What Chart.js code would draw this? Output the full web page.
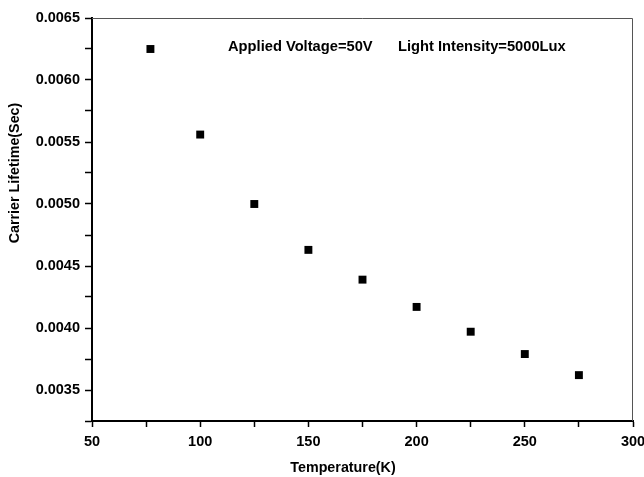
<!DOCTYPE html>
<html>
<head>
<meta charset="utf-8">
<script src="https://cdn.jsdelivr.net/npm/chart.js@4/dist/chart.umd.min.js"></script>
<style>
html,body{margin:0;padding:0;background:#fff;}
#wrap{width:644px;height:477px;}
</style>
</head>
<body>
<div id="wrap"><canvas id="c" width="644" height="477"></canvas></div>
<script>
const temperatures = [77, 100, 125, 150, 175, 200, 225, 250, 275];
const lifetimes = [0.00625, 0.00556, 0.00500, 0.00463, 0.00439, 0.00417, 0.00397, 0.00379, 0.00362];
const xTickValues = [50, 100, 150, 200, 250, 300];
const yTickValues = [0.0035, 0.0040, 0.0045, 0.0050, 0.0055, 0.0060, 0.0065];
const annotationTexts = ["Applied Voltage=50V", "Light Intensity=5000Lux"];
const xTitle = "Temperature(K)";
const yTitle = "Carrier Lifetime(Sec)";

const FONT = "'Liberation Sans', Arial, sans-serif";

const framePlugin = {
  id: 'frame',
  beforeDatasetsDraw(chart) {
    const {ctx, chartArea: a} = chart;
    ctx.save();
    ctx.strokeStyle = '#555';
    ctx.lineWidth = 1;
    ctx.beginPath();
    ctx.moveTo(a.left, a.top + 0.5);
    ctx.lineTo(a.right - 0.5, a.top + 0.5);
    ctx.lineTo(a.right - 0.5, a.bottom);
    ctx.stroke();
    ctx.restore();
  },
  afterDraw(chart) {
    const {ctx} = chart;
    ctx.save();
    ctx.fillStyle = '#000';
    ctx.textBaseline = 'middle';
    ctx.font = "bold 14.7px " + FONT;
    ctx.textAlign = 'left';
    ctx.fillText(annotationTexts[0], 228, 47);
    ctx.fillText(annotationTexts[1], 398, 47);
    ctx.font = "bold 14.3px " + FONT;
    ctx.textAlign = 'center';
    ctx.fillText(xTitle, 343, 468);
    ctx.translate(15, 173);
    ctx.rotate(-Math.PI / 2);
    ctx.fillText(yTitle, 0, 0);
    ctx.restore();
  }
};

const near = (v, list, eps) => list.some(t => Math.abs(t - v) < eps);

new Chart(document.getElementById('c'), {
  type: 'scatter',
  data: {
    datasets: [{
      data: temperatures.map((t, i) => ({x: t, y: lifetimes[i]})),
      pointStyle: 'rect',
      pointRadius: 5.6,
      pointHoverRadius: 5.6,
      backgroundColor: '#000',
      borderColor: '#000',
      borderWidth: 0
    }]
  },
  options: {
    responsive: false,
    animation: false,
    events: [],
    layout: {padding: {left: 0, top: 18, right: 11, bottom: 0}},
    plugins: {legend: {display: false}, tooltip: {enabled: false}},
    scales: {
      x: {
        type: 'linear',
        min: 50, max: 300,
        afterFit(s) { s.height = 56; s.paddingLeft = 0; s.paddingRight = 0; },
        border: {display: true, color: '#000', width: 2},
        grid: {drawOnChartArea: false, drawTicks: true, tickLength: 6, tickColor: '#000', tickWidth: 1.5},
        ticks: {
          stepSize: 25,
          autoSkip: false,
          maxRotation: 0,
          padding: 6,
          color: '#000',
          font: {family: FONT, size: 14.5, weight: 'bold'},
          callback: v => near(v, xTickValues, 1e-6) ? String(v) : ''
        }
      },
      y: {
        type: 'linear',
        min: 0.00325, max: 0.0065,
        afterFit(s) { s.width = 92; s.paddingTop = 0; s.paddingBottom = 0; },
        border: {display: true, color: '#000', width: 2},
        grid: {drawOnChartArea: false, drawTicks: true, tickLength: 7, tickColor: '#000', tickWidth: 1.5},
        ticks: {
          stepSize: 0.00025,
          autoSkip: false,
          padding: 5,
          color: '#000',
          font: {family: FONT, size: 14.5, weight: 'bold'},
          callback: v => near(v, yTickValues, 1e-8) ? v.toFixed(4) : ''
        }
      }
    }
  },
  plugins: [framePlugin]
});
</script>
</body>
</html>
